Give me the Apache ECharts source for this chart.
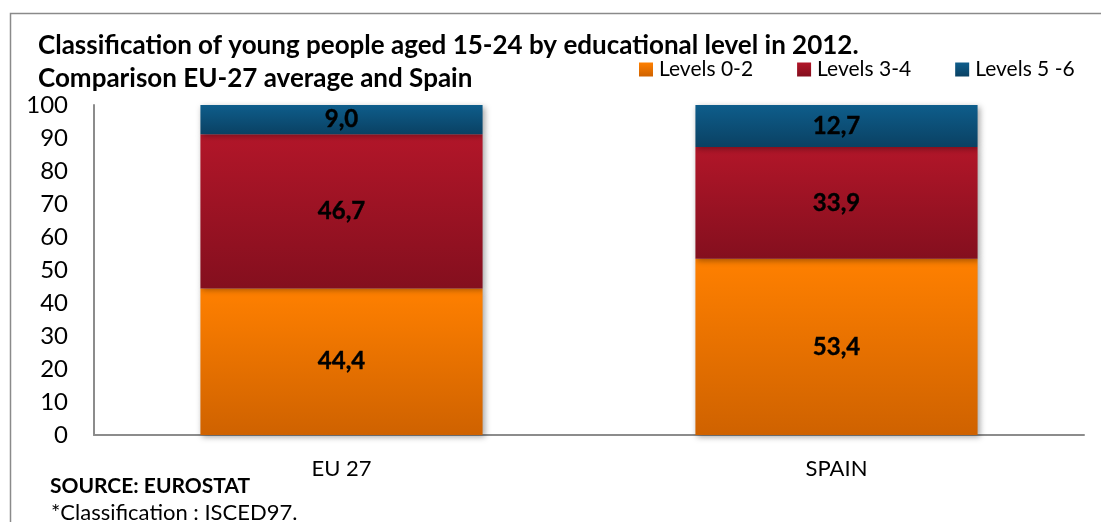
<!DOCTYPE html>
<html>
<head>
<meta charset="utf-8">
<style>
  html, body { margin: 0; padding: 0; background: #ffffff; }
  #chart { width: 1101px; height: 522px; }
</style>
<script src="https://cdn.jsdelivr.net/npm/echarts@6/dist/echarts.min.js"></script>
</head>
<body>
<div id="chart"></div>
<script>
// Categories and shares (%) of young people aged 15-24 per educational level
const categories = ['EU 27', 'SPAIN'];
const levels02 = [44.4, 53.4];
const levels34 = [46.7, 33.9];
const levels56 = [9.0, 12.7];
const seriesNames = ['Levels 0-2', 'Levels 3-4', 'Levels 5 -6'];
const yTicks = [0, 10, 20, 30, 40, 50, 60, 70, 80, 90, 100];

const FONT = 'Lato, "Open Sans", sans-serif';

function grad(top, bottom) {
  return new echarts.graphic.LinearGradient(0, 0, 0, 1, [
    { offset: 0, color: top },
    { offset: 1, color: bottom }
  ]);
}

const palette = [
  { top: '#FF8000', bottom: '#CF6200' },
  { top: '#B21629', bottom: '#840F1E' },
  { top: '#0E5D8B', bottom: '#0A4163' }
];

function fmt(v) { return v.toFixed(1).replace('.', ','); }

function barSeries(name, data, colors) {
  return {
    name: name,
    type: 'bar',
    stack: 'total',
    barWidth: '57%',
    data: data,
    itemStyle: {
      color: grad(colors.top, colors.bottom),
      shadowColor: 'rgba(0,0,0,0.35)',
      shadowBlur: 6,
      shadowOffsetX: 2,
      shadowOffsetY: 2
    },
    label: {
      show: true,
      position: 'inside',
      formatter: p => fmt(p.value),
      color: '#000000',
      fontFamily: FONT,
      fontWeight: 'bold',
      fontSize: 24,
      textBorderColor: '#000000',
      textBorderWidth: 0.4
    },
    emphasis: { disabled: true }
  };
}

const chart = echarts.init(document.getElementById('chart'), null, { renderer: 'canvas' });

chart.setOption({
  animation: false,
  backgroundColor: '#ffffff',
  title: {
    text: 'Classification of young people aged 15-24 by educational level in 2012.\nComparison EU-27 average and Spain',
    left: 33,
    top: 24,
    textStyle: {
      fontFamily: FONT,
      fontWeight: 'bold',
      fontSize: 26,
      lineHeight: 33,
      color: '#000000'
    }
  },
  legend: {
    data: seriesNames,
    left: 634,
    top: 54,
    itemWidth: 14,
    itemHeight: 14,
    itemGap: 44,
    icon: 'rect',
    textStyle: { fontFamily: FONT, fontSize: 21, color: '#000000', padding: [0, 0, 0, 1] }
  },
  grid: { left: 94, right: 17, top: 105, bottom: 87, containLabel: false },
  xAxis: {
    type: 'category',
    data: categories,
    axisLine: { lineStyle: { color: '#8c8c8c', width: 2 } },
    axisTick: { show: false },
    axisLabel: { fontFamily: FONT, fontSize: 22, color: '#000000', margin: 23 }
  },
  yAxis: {
    type: 'value',
    min: yTicks[0],
    max: yTicks[yTicks.length - 1],
    interval: 10,
    axisLine: { show: true, lineStyle: { color: '#8c8c8c', width: 2 } },
    axisTick: { show: false },
    splitLine: { show: false },
    axisLabel: { fontFamily: FONT, fontSize: 24, color: '#000000', margin: 26 }
  },
  graphic: [
    {
      type: 'rect',
      shape: { x: 10.5, y: 13.5, width: 1200, height: 600 },
      style: { fill: 'none', stroke: '#8a8a8a', lineWidth: 1.5 },
      silent: true
    },
    {
      type: 'text',
      left: 50,
      top: 476,
      style: { text: 'SOURCE: EUROSTAT', fontFamily: FONT, fontWeight: 'bold', fontSize: 21, fill: '#000000' }
    },
    {
      type: 'text',
      left: 51,
      top: 502,
      style: { text: '*Classification : ISCED97.', fontFamily: FONT, fontSize: 22, fill: '#000000' }
    }
  ],
  series: [
    barSeries(seriesNames[0], levels02, palette[0]),
    barSeries(seriesNames[1], levels34, palette[1]),
    barSeries(seriesNames[2], levels56, palette[2])
  ]
});
</script>
</body>
</html>
